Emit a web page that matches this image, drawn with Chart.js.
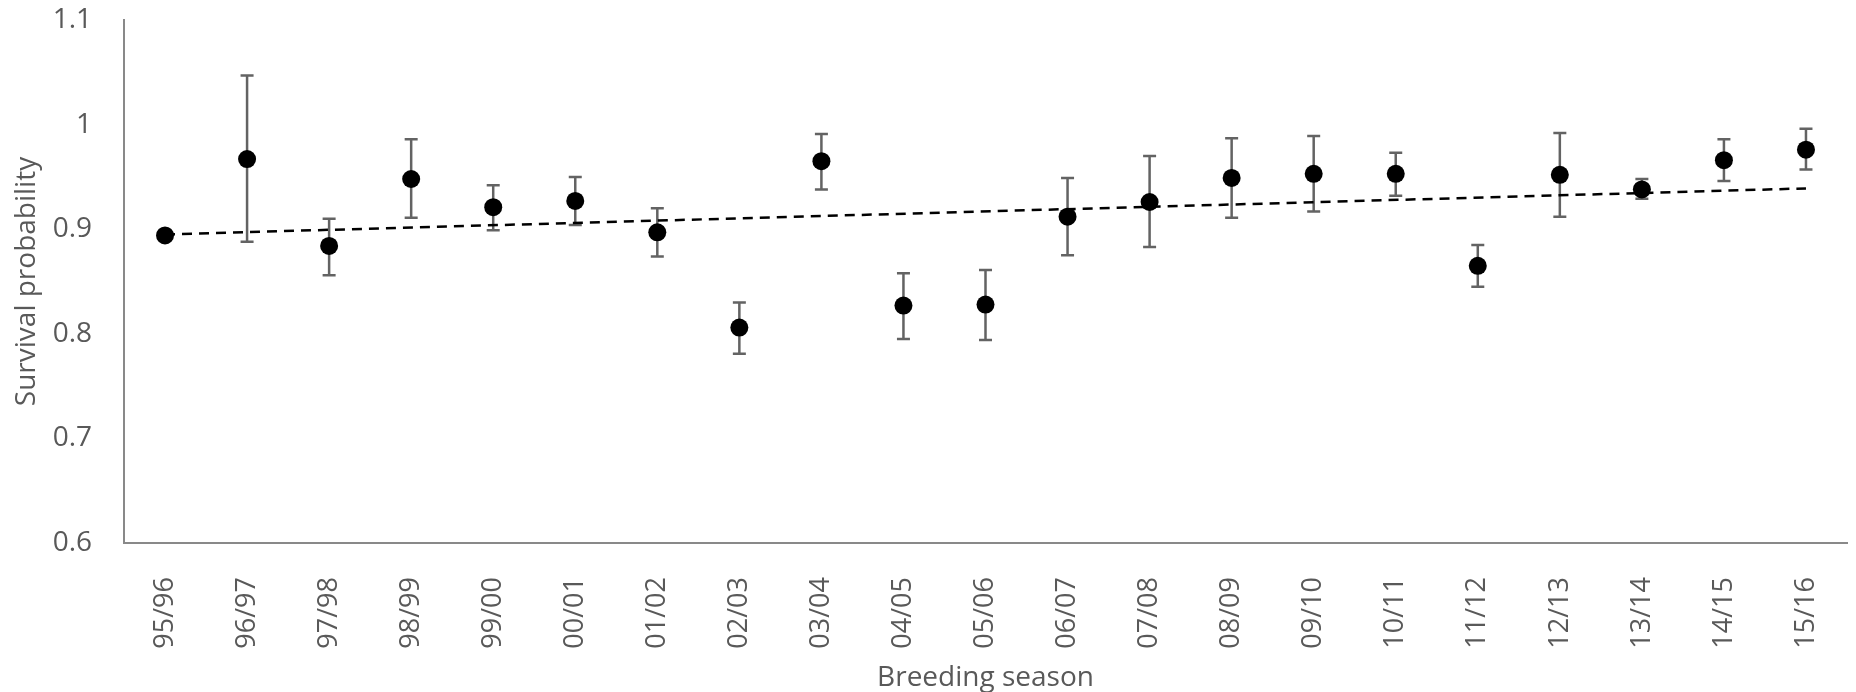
<!DOCTYPE html>
<html>
<head>
<meta charset="utf-8">
<title>Survival probability by breeding season</title>
<script src="https://cdn.jsdelivr.net/npm/chart.js@4.4.1/dist/chart.umd.min.js"></script>
<style>
  html, body { margin: 0; padding: 0; background: #fff; }
  #wrap { width: 1856px; height: 692px; position: relative; }
</style>
</head>
<body>
<div id="wrap"><canvas id="chart"></canvas></div>
<script>
const seasons = ['95/96', '96/97', '97/98', '98/99', '99/00', '00/01', '01/02', '02/03', '03/04', '04/05', '05/06',
  '06/07', '07/08', '08/09', '09/10', '10/11', '11/12', '12/13', '13/14', '14/15', '15/16'];
const survival = [0.894, 0.967, 0.884, 0.948, 0.921, 0.927, 0.897, 0.806, 0.965, 0.827, 0.828,
  0.912, 0.926, 0.949, 0.953, 0.953, 0.865, 0.952, 0.938, 0.966, 0.976];
const upper = [null, 1.047, 0.910, 0.986, 0.942, 0.950, 0.920, 0.830, 0.991, 0.858, 0.861,
  0.949, 0.970, 0.987, 0.989, 0.973, 0.885, 0.992, 0.948, 0.986, 0.996];
const lower = [null, 0.888, 0.856, 0.911, 0.899, 0.904, 0.874, 0.781, 0.938, 0.795, 0.794,
  0.875, 0.883, 0.911, 0.917, 0.932, 0.845, 0.912, 0.929, 0.946, 0.957];
const trendStart = 0.895;
const trendEnd = 0.939;

const textColor = '#595959';
const axisColor = '#898989';
const fontFamily = '"Open Sans", "Liberation Sans", sans-serif';

// linear trend drawn between its two end values only
const trendData = seasons.map((_, i) => {
  if (i === 0) return trendStart;
  if (i === seasons.length - 1) return trendEnd;
  return null;
});

const errorBars = {
  id: 'errorBars',
  beforeDatasetsDraw(chart) {
    const { ctx, scales: { x, y } } = chart;
    ctx.save();
    ctx.strokeStyle = '#636363';
    ctx.lineWidth = 2.5;
    const cap = 6.5;
    seasons.forEach((_, i) => {
      if (upper[i] == null || lower[i] == null) return;
      const px = x.getPixelForValue(i);
      const yTop = y.getPixelForValue(upper[i]);
      const yBot = y.getPixelForValue(lower[i]);
      ctx.beginPath();
      ctx.moveTo(px, yTop);
      ctx.lineTo(px, yBot);
      ctx.moveTo(px - cap, yTop);
      ctx.lineTo(px + cap, yTop);
      ctx.moveTo(px - cap, yBot);
      ctx.lineTo(px + cap, yBot);
      ctx.stroke();
    });
    ctx.restore();
  }
};

// transparent tick marks are used as the label gap so that ticks.padding
// does not eat into the plot area
const hiddenTicks = len => ({ display: true, drawOnChartArea: false, drawTicks: true, tickLength: len, color: 'rgba(0,0,0,0)' });

new Chart(document.getElementById('chart'), {
  type: 'line',
  data: {
    labels: seasons,
    datasets: [
      {
        label: 'Survival',
        data: survival,
        showLine: false,
        pointRadius: 9,
        pointBackgroundColor: '#000',
        pointBorderWidth: 0,
        order: 0,
      },
      {
        label: 'Trend',
        data: trendData,
        spanGaps: true,
        borderColor: '#000',
        borderWidth: 2.5,
        borderDash: [10, 7],
        pointRadius: 0,
        fill: false,
        order: 1,
      },
    ],
  },
  options: {
    responsive: true,
    maintainAspectRatio: false,
    animation: false,
    layout: { padding: { top: 20, left: 0, right: -6, bottom: 0 } },
    plugins: { legend: { display: false }, tooltip: { enabled: false } },
    scales: {
      x: {
        offset: true,
        grid: hiddenTicks(34),
        border: { display: true, color: axisColor, width: 2 },
        ticks: {
          color: textColor,
          font: { family: fontFamily, size: 27 },
          minRotation: 90,
          maxRotation: 90,
          padding: 0,
          autoSkip: false,
        },
        title: {
          display: true,
          text: 'Breeding season',
          color: textColor,
          font: { family: fontFamily, size: 28, lineHeight: 1 },
          padding: { top: 0, bottom: 0 },
        },
        afterFit(scale) { scale.height = 149; },
      },
      y: {
        min: 0.6,
        max: 1.1,
        grid: hiddenTicks(32),
        border: { display: true, color: axisColor, width: 2 },
        ticks: {
          stepSize: 0.1,
          color: textColor,
          font: { family: fontFamily, size: 28 },
          padding: 0,
          callback: v => String(Number(v.toFixed(1))),
        },
        title: {
          display: true,
          text: 'Survival probability',
          color: textColor,
          font: { family: fontFamily, size: 28, lineHeight: 1.2 },
          padding: { top: 10, bottom: 0 },
        },
        afterFit(scale) { scale.width = 124; },
      },
    },
  },
  plugins: [errorBars],
});
</script>
</body>
</html>
